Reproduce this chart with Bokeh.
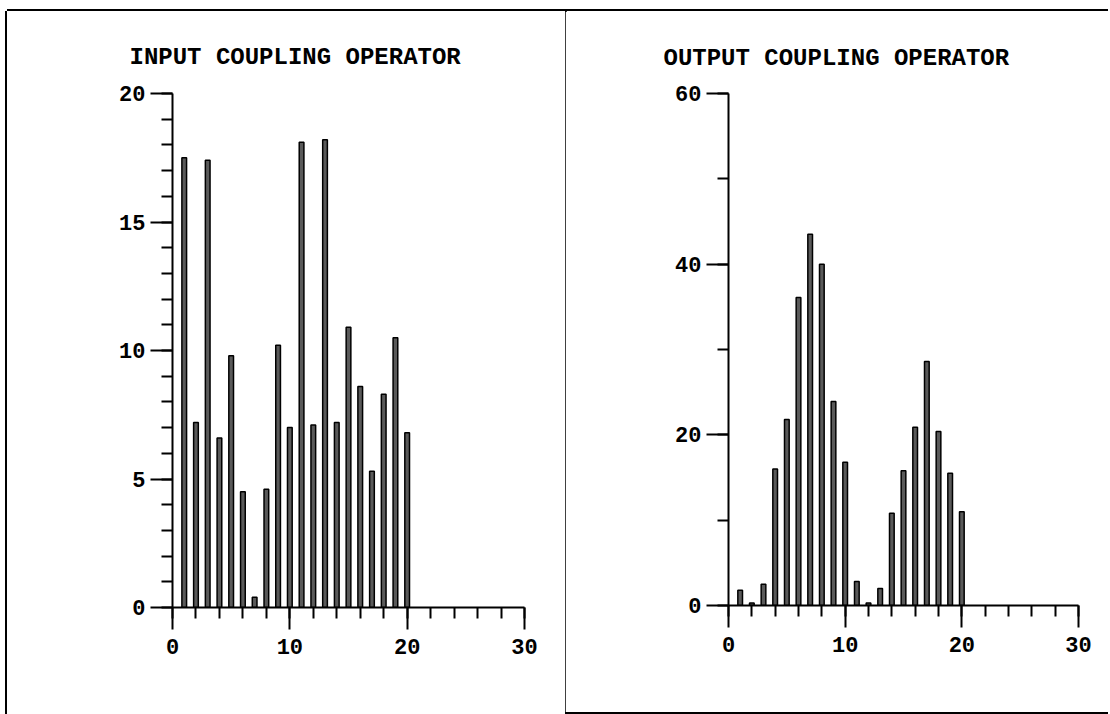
from bokeh.plotting import figure
from bokeh.layouts import row
from bokeh.models import Range1d, FixedTicker, Title, ColumnDataSource
from bokeh.embed import file_html
from bokeh.resources import INLINE

# ---- data ----
positions = list(range(1, 21))
input_vals = [17.5, 7.2, 17.4, 6.6, 9.8, 4.5, 0.4, 4.6, 10.2, 7.0,
              18.1, 7.1, 18.2, 7.2, 10.9, 8.6, 5.3, 8.3, 10.5, 6.8]
output_vals = [1.8, 0.3, 2.5, 16.0, 21.8, 36.1, 43.5, 40.0, 23.9, 16.8,
               2.8, 0.3, 2.0, 10.8, 15.8, 20.9, 28.6, 20.4, 15.5, 11.0]
titles = ["INPUT COUPLING OPERATOR", "OUTPUT COUPLING OPERATOR"]
x_major = [0, 10, 20, 30]
x_minor = list(range(0, 31, 2))
y1_major = [0, 5, 10, 15, 20]
y1_minor = list(range(0, 21))
y2_major = [0, 20, 40, 60]
y2_minor = list(range(0, 61, 10))

FONT = "Liberation Mono"


def style_axes(p):
    for ax in (p.xaxis[0], p.yaxis[0]):
        ax.axis_line_width = 2
        ax.axis_line_color = "black"
        ax.major_tick_line_width = 2
        ax.minor_tick_line_width = 2
        ax.major_tick_line_color = "black"
        ax.minor_tick_line_color = "black"
        ax.major_tick_in = 0
        ax.major_tick_out = 22
        ax.minor_tick_in = 0
        ax.minor_tick_out = 11
        ax.major_label_text_font = FONT
        ax.major_label_text_font_style = "bold"
        ax.major_label_text_font_size = "22px"
        ax.major_label_text_color = "black"
    p.xaxis[0].major_label_standoff = 9
    p.yaxis[0].major_label_standoff = 5
    p.xgrid.visible = False
    p.ygrid.visible = False
    p.outline_line_color = None


def make_panel(vals, ymax, ymaj, ymin, title, width, height, mbl, mbr, mbt, mbb,
               offset, standoff, margin):
    p = figure(width=width, height=height, x_range=Range1d(0, 30), y_range=Range1d(0, ymax),
               output_backend="svg", toolbar_location=None,
               min_border_left=mbl, min_border_right=mbr,
               min_border_top=mbt, min_border_bottom=mbb, margin=margin)
    src = ColumnDataSource(dict(x=positions, top=vals))
    p.vbar(x="x", top="top", bottom=0, width=0.4, source=src,
           fill_color="#5a5a5a", line_color="black", line_width=1.5)
    p.xaxis[0].ticker = FixedTicker(ticks=x_major, minor_ticks=x_minor)
    p.yaxis[0].ticker = FixedTicker(ticks=ymaj, minor_ticks=ymin)
    style_axes(p)
    t = Title(text=title, align="left", offset=offset, standoff=standoff,
              text_font=FONT, text_font_style="bold", text_font_size="24px",
              text_color="black")
    p.add_layout(t, "above")
    return p


p1 = make_panel(input_vals, 20, y1_major, y1_minor, titles[0],
                558, 703, 165, 41, 82, 107, -43, 46, (11, 0, 0, 7))
p2 = make_panel(output_vals, 60, y2_major, y2_minor, titles[1],
                543, 701, 163, 30, 80, 107, -65, 44, (11, 0, 0, 0))

p1.styles = {"box-shadow": "-2px 0 0 0 black, 0 -2px 0 0 black, 2px 0 0 0 black"}
p2.styles = {"box-shadow": "0 -2px 0 0 black, 0 2px 0 0 black"}

layout = row(p1, p2)
open("out.html", "w").write(file_html(layout, INLINE))
